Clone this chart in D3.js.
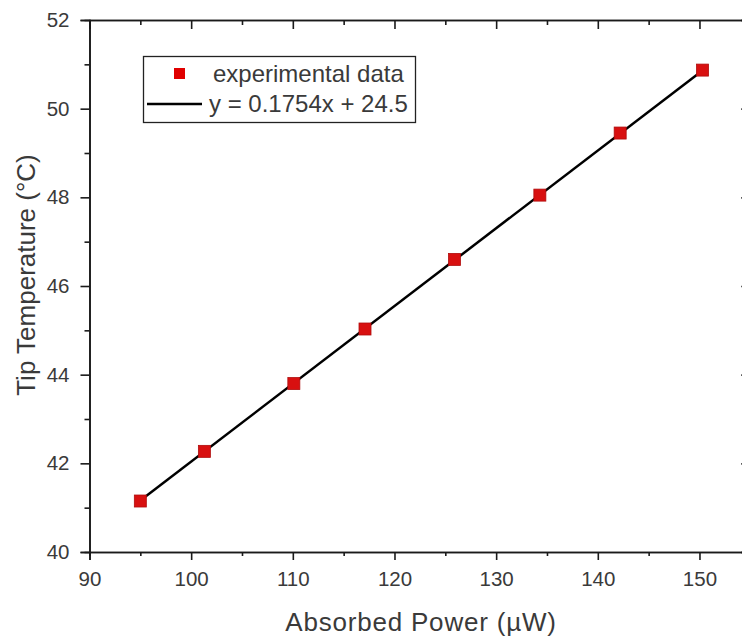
<!DOCTYPE html>
<html>
<head>
<meta charset="utf-8">
<script src="https://cdn.jsdelivr.net/npm/d3@7"></script>
<style>
  body { margin: 0; background: #fff; }
  svg { font-family: Arial, "Liberation Sans", sans-serif; }
</style>
</head>
<body>
<svg width="742" height="640"></svg>
<script>
// measured values
var power = [95.0, 101.3, 110.1, 117.1, 125.9, 134.3, 142.2, 150.3];
var temperature = [41.15, 42.27, 43.8, 45.03, 46.6, 48.05, 49.45, 50.87];
var fitSlope = 0.1754, fitIntercept = 24.5;
var xTicks = [90, 100, 110, 120, 130, 140, 150];
var xMinor = [95, 105, 115, 125, 135, 145, 155];
var yTicks = [40, 42, 44, 46, 48, 50, 52];
var yMinor = [41, 43, 45, 47, 49, 51];
var legendLabels = ["experimental data", "y = 0.1754x + 24.5"];

var svg = d3.select("svg");
var textColor = "#3a3a3a";
var axisColor = "#1a1a1a";

var x = d3.scaleLinear().domain([90, 155]).range([89.5, 750.3]);
var y = d3.scaleLinear().domain([40, 52]).range([552, 20]);

function styleAxis(g) {
  g.select(".domain").attr("stroke", axisColor).attr("stroke-width", 1.6);
  g.selectAll(".tick line").attr("stroke", axisColor).attr("stroke-width", 1.6);
  g.selectAll("text").attr("fill", textColor).attr("font-size", 20.5);
}

// bottom
svg.append("g").attr("transform", "translate(0," + y(40) + ")")
  .call(d3.axisBottom(x).tickValues(xMinor).tickSize(4).tickFormat(""))
  .call(styleAxis);
svg.append("g").attr("transform", "translate(0," + y(40) + ")")
  .call(d3.axisBottom(x).tickValues(xTicks).tickSize(8).tickPadding(11).tickFormat(d3.format("d")))
  .call(styleAxis);
// top (inward ticks)
svg.append("g").attr("transform", "translate(0," + y(52) + ")")
  .call(d3.axisTop(x).tickValues(xMinor).tickSize(-5).tickFormat(""))
  .call(styleAxis);
svg.append("g").attr("transform", "translate(0," + y(52) + ")")
  .call(d3.axisTop(x).tickValues(xTicks).tickSize(-9).tickFormat(""))
  .call(styleAxis);
// left
svg.append("g").attr("transform", "translate(" + x(90) + ",0)")
  .call(d3.axisLeft(y).tickValues(yMinor).tickSize(5).tickFormat(""))
  .call(styleAxis);
svg.append("g").attr("transform", "translate(" + x(90) + ",0)")
  .call(d3.axisLeft(y).tickValues(yTicks).tickSize(9).tickPadding(11).tickFormat(d3.format("d")))
  .call(styleAxis);
// right (inward ticks)
svg.append("g").attr("transform", "translate(" + x(155) + ",0)")
  .call(d3.axisRight(y).tickValues(yMinor).tickSize(-5).tickFormat(""))
  .call(styleAxis);
svg.append("g").attr("transform", "translate(" + x(155) + ",0)")
  .call(d3.axisRight(y).tickValues(yTicks).tickSize(-9).tickFormat(""))
  .call(styleAxis);

// fit line
var x0 = d3.min(power), x1 = d3.max(power);
svg.append("line")
  .attr("x1", x(x0)).attr("y1", y(fitSlope * x0 + fitIntercept))
  .attr("x2", x(x1)).attr("y2", y(fitSlope * x1 + fitIntercept))
  .attr("stroke", "#000").attr("stroke-width", 2.5);

// data points
var s = 12;
svg.selectAll("rect.pt")
  .data(power)
  .enter()
  .append("rect")
  .attr("class", "pt")
  .attr("x", function(d) { return x(d) - s / 2; })
  .attr("y", function(d, i) { return y(temperature[i]) - s / 2; })
  .attr("width", s).attr("height", s)
  .attr("fill", "#d81010")
  .attr("stroke", "#b00d0d").attr("stroke-width", 0.8);

// legend
var lg = svg.append("g");
lg.append("rect").attr("x", 143.5).attr("y", 56.5).attr("width", 272).attr("height", 66)
  .attr("fill", "#fff").attr("stroke", "#222").attr("stroke-width", 1.3);
lg.append("rect").attr("x", 174).attr("y", 68).attr("width", 11).attr("height", 11)
  .attr("fill", "#e00000");
lg.append("line").attr("x1", 147).attr("x2", 202).attr("y1", 104).attr("y2", 104)
  .attr("stroke", "#000").attr("stroke-width", 2.5);
lg.append("text").attr("x", 213).attr("y", 82).attr("font-size", 24).attr("fill", textColor)
  .text(legendLabels[0]);
lg.append("text").attr("x", 209).attr("y", 112).attr("font-size", 24).attr("fill", textColor)
  .text(legendLabels[1]);

// axis titles
svg.append("text").attr("x", 421).attr("y", 631).attr("text-anchor", "middle")
  .attr("font-size", 26).attr("letter-spacing", 0.8).attr("fill", textColor)
  .text("Absorbed Power (\u00b5W)");
svg.append("text").attr("transform", "translate(35,275) rotate(-90)").attr("text-anchor", "middle")
  .attr("font-size", 26).attr("fill", textColor).text("Tip Temperature (\u00b0C)");
</script>
</body>
</html>
